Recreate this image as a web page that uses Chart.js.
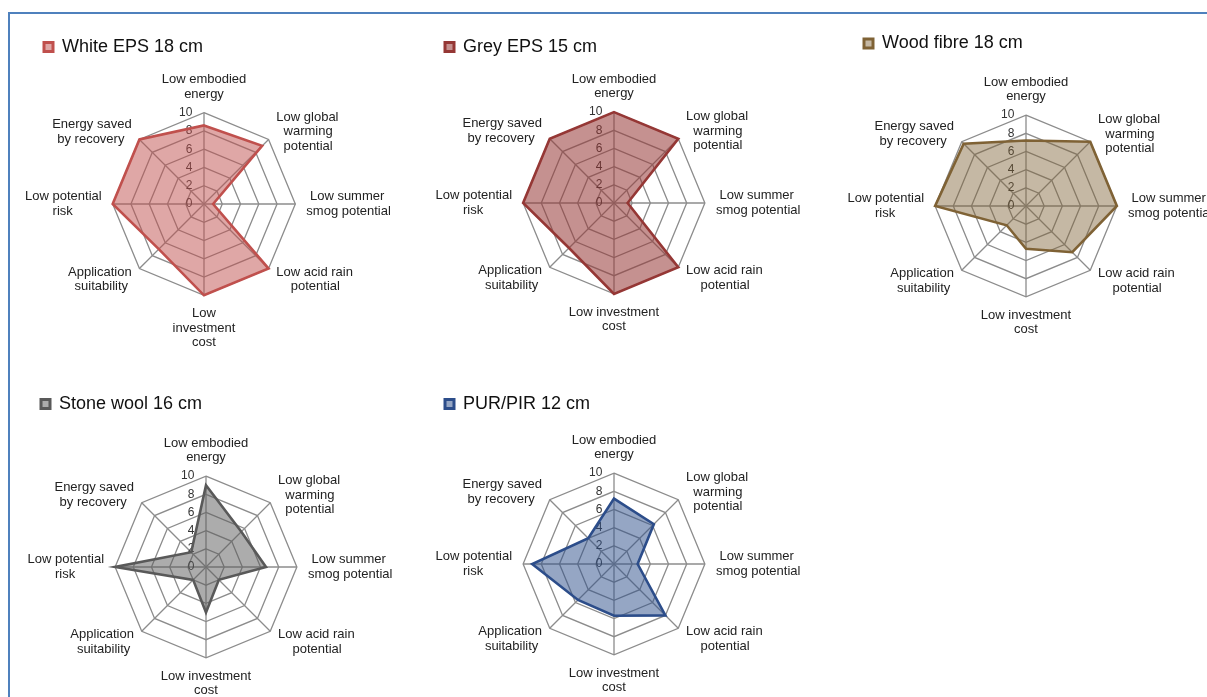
<!DOCTYPE html>
<html>
<head>
<meta charset="utf-8">
<script src="https://cdn.jsdelivr.net/npm/chart.js@4.4.1/dist/chart.umd.min.js"></script>
<style>
  html, body { margin: 0; padding: 0; background: #fff; width: 1207px; height: 697px; overflow: hidden; position: relative; }
  #frame { position: absolute; left: 8px; top: 12px; width: 1220px; height: 720px; border-top: 2px solid #4f81bd; border-left: 2px solid #4f81bd; }
  canvas { position: absolute; }
</style>
</head>
<body>
<div id="frame"></div>
<canvas id="c1"></canvas>
<canvas id="c2"></canvas>
<canvas id="c3"></canvas>
<canvas id="c4"></canvas>
<canvas id="c5"></canvas>
<script>
// criteria, clockwise from the top (spaces keep the lines visually centred)
const criteria = [
  ['Low embodied', 'energy'],
  ['Low global', '  warming', '  potential'],
  [' Low summer', 'smog potential'],
  ['Low acid rain', '    potential'],
  ['Low investment', 'cost'],
  ['Application', 'suitability '],
  ['Low potential', 'risk        '],
  ['Energy saved', 'by recovery  ']
];
const criteriaFirst = criteria.map((c, i) => i === 4 ? ['Low', 'investment', 'cost'] : c);

const materials = ['White EPS 18 cm', 'Grey EPS 15 cm', 'Wood fibre 18 cm', 'Stone wool 16 cm', 'PUR/PIR 12 cm'];

const whiteEps  = [8.6, 9, 1, 10, 10, 7, 10, 10];
const greyEps   = [10, 10, 1.5, 10, 10, 7, 10, 10];
const woodFibre = [7.2, 10, 10, 7.2, 4.7, 3, 10, 9.7];
const stoneWool = [9, 5.5, 6.6, 2, 5, 2, 10, 2.3];
const purPir    = [7.2, 6.2, 2.6, 8, 5.7, 5.6, 9, 4];

const tickValues = [0, 2, 4, 6, 8, 10];

const borderColors = ['#c0504d', '#953735', '#7f6235', '#595959', '#2c4d8a'];
const fillColors = ['rgba(192,80,77,0.5)', 'rgba(149,55,53,0.55)', 'rgba(127,98,53,0.45)', 'rgba(89,89,89,0.5)', 'rgba(44,77,138,0.5)'];

// canvas placement on the page, legend position in page coords
const TOP_PAD = 24;
const panels = [
  { id: 'c1', labels: criteriaFirst, values: whiteEps,  left: -41, top: 28,  w: 490, h: 330, legX: 44,  legY: 47 },
  { id: 'c2', labels: criteria,      values: greyEps,   left: 384, top: 34,  w: 460, h: 300, legX: 445, legY: 47 },
  { id: 'c3', labels: criteria,      values: woodFibre, left: 796, top: 37,  w: 460, h: 300, legX: 864, legY: 43.5 },
  { id: 'c4', labels: criteria,      values: stoneWool, left: -24, top: 398, w: 460, h: 300, legX: 41,  legY: 404 },
  { id: 'c5', labels: criteria,      values: purPir,    left: 384, top: 395, w: 460, h: 300, legX: 445, legY: 404 }
];

Chart.defaults.font.family = '"Liberation Sans", Arial, sans-serif';
Chart.defaults.color = '#222';

// move legend to the top-left corner and centre diagonal labels on their spokes
const placeLabels = {
  id: 'placeLabels',
  afterLayout(chart, args, opts) {
    chart.legend.left = opts.legX - 10;
    chart.legend.top = opts.legY - 19;
    chart.scales.r._pointLabelItems.forEach((item, i) => {
      const h = item.bottom - item.top;
      let dy = 0;
      if (i === 1 || i === 7) dy = h / 2;
      if (i === 3 || i === 5) dy = 3 - h / 2;
      item.y += dy; item.top += dy; item.bottom += dy;
    });
  }
};

panels.forEach((p, k) => {
  const cv = document.getElementById(p.id);
  const top = p.top - TOP_PAD;
  cv.width = p.w; cv.height = p.h + TOP_PAD;
  cv.style.left = p.left + 'px';
  cv.style.top = top + 'px';

  new Chart(cv, {
    type: 'radar',
    data: {
      labels: p.labels,
      datasets: [{
        label: materials[k],
        data: p.values,
        borderColor: borderColors[k],
        backgroundColor: fillColors[k],
        borderWidth: 2.6,
        fill: true,
        pointRadius: 0,
        tension: 0
      }]
    },
    options: {
      responsive: false,
      animation: false,
      layout: { padding: { top: TOP_PAD } },
      plugins: {
        tooltip: { enabled: false },
        placeLabels: { legX: p.legX - p.left, legY: p.legY - top },
        legend: {
          position: 'top',
          align: 'start',
          labels: {
            boxWidth: 9,
            boxHeight: 9,
            padding: 10,
            color: '#111',
            font: { size: 18 },
            generateLabels: chart => Chart.defaults.plugins.legend.labels.generateLabels(chart).map(l => Object.assign(l, { lineWidth: 3 }))
          }
        }
      },
      scales: {
        r: {
          min: -0.001,
          max: tickValues[tickValues.length - 1],
          ticks: {
            stepSize: tickValues[1] - tickValues[0],
            showLabelBackdrop: false,
            backdropPadding: 0,
            color: '#333',
            font: { size: 12 },
            callback: v => {
              const s = String(Math.round(v));
              return s + ' '.repeat(7 + 2 * s.length);
            }
          },
          grid: { color: '#8c8c8c', lineWidth: 1.3 },
          angleLines: { color: '#8c8c8c', lineWidth: 1.3 },
          pointLabels: { color: '#222', padding: 5, font: { size: 13, lineHeight: 1.12 } }
        }
      }
    },
    plugins: [placeLabels]
  });
});
</script>
</body>
</html>
